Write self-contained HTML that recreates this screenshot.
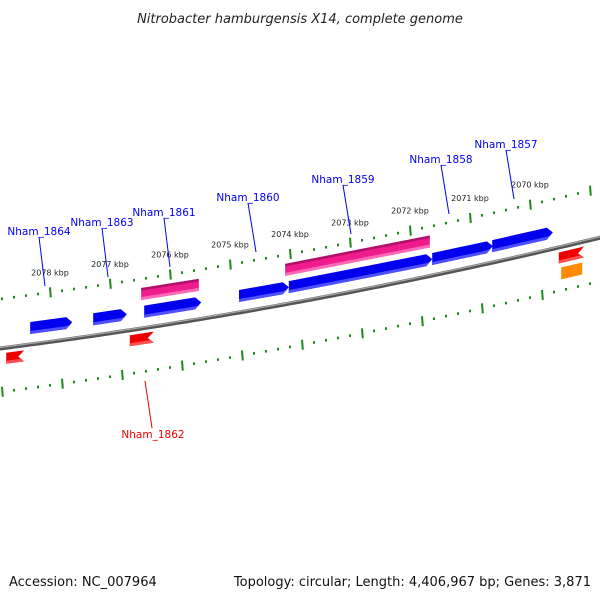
<!DOCTYPE html>
<html><head><meta charset="utf-8"><style>
body{margin:0;background:#fff}
svg{display:block}
text{font-family:"DejaVu Sans","Liberation Sans",sans-serif}
</style></head><body>
<svg id="c" width="600" height="600" viewBox="0 0 600 600">
<text x="300" y="23" text-anchor="middle" font-size="13" font-style="italic" fill="#222">Nitrobacter hamburgensis X14, complete genome</text>
<text x="9" y="586" font-size="13" fill="#111">Accession: NC_007964</text>
<text x="591" y="586" font-size="13" fill="#111" text-anchor="end">Topology: circular; Length: 4,406,967 bp; Genes: 3,871</text>
<g id="layer"></g>
</svg>
<script>
const tickKbp=[2078,2077,2076,2075,2074,2073,2072,2071,2070];
const geneNames=["Nham_1864","Nham_1863","Nham_1861","Nham_1860","Nham_1859","Nham_1858","Nham_1857"];
const fwdStart=[2078.33,2077.28,2076.43,2074.85,2074.02,2071.63,2070.63];
const fwdEnd=[2077.63,2076.72,2075.48,2074.02,2071.63,2070.62,2069.62];
const pinkStart=[2076.48,2074.08];
const pinkEnd=[2075.52,2071.67];
const revStart=[2078.73,2076.67,2069.52];
const revEnd=[2078.53,2076.37,2069.2];
const revNames=["","Nham_1862",""];
const orangeStart=[2069.48];
const orangeEnd=[2069.13];
const labelPos=[[39,231],[102,222],[164,212],[248,197],[343,179],[441,159],[506,144]];

const NS="http://www.w3.org/2000/svg";
const L=document.getElementById('layer');
function X(k){return 50+(2078-k)*60;}
function B(x){return 347-0.128*x-9.44e-5*x*x;}
function el(t,a){const e=document.createElementNS(NS,t);for(const k in a)e.setAttribute(k,a[k]);L.appendChild(e);return e;}

// backbone
let d="";for(let x=-5;x<=605;x+=5){d+=(x==-5?"M":"L")+x+","+(B(x)+1.5);}
let bb=el('path',{d:d,stroke:'#555',"stroke-width":4,fill:'none'});

d="";for(let x=-5;x<=605;x+=5){d+=(x==-5?"M":"L")+x+","+(B(x)+0.5);}
el('path',{d:d,stroke:'#aaa',"stroke-width":1.2,fill:'none'});

// tick tracks
function track(off,shift,name){
  for(let i=-40;i<=60;i++){
    const k=2078.8-i*0.2;
    const x=X(k)+shift; if(x<-2||x>602)continue;
    const major=Math.abs(Math.round(k)-k)<0.01;
    const y=B(x)+off;
    const t=el('line',{x1:x,y1:y-(major?5:1.3),x2:x+(major?0.8:0),y2:y+(major?5:1.3),stroke:'#1a8a1a',"stroke-width":2});
    
  }
}
track(-48,0,'upper-tick');
track(45,12,'lower-tick');
tickKbp.forEach(k=>{
  const x=X(k);const t=el('text',{x:x,y:B(x)-65,"font-size":8,"text-anchor":"middle",fill:'#222'});
  t.textContent=k+" kbp";
  
});

function gene(ks,ke,off,h,color,light,dir,name){
  const x1=X(ks),x2=X(ke);const a=dir>0?6:-6;
  const xs=dir>0?x1:x2, xe=dir>0?x2:x1;
  const tip=xe, base=xe-a;
  const p=[[xs,B(xs)+off-h/2],[base,B(base)+off-h/2],[tip,B(tip)+off],[base,B(base)+off+h/2],[xs,B(xs)+off+h/2]];
  const g=el('polygon',{points:p.map(q=>q.join(',')).join(' '),fill:color});
  
  const q=[[xs,B(xs)+off+h/2-3],[base,B(base)+off+h/2-3],[tip-a*0.3,B(tip)+off+h/2-3.5],[base,B(base)+off+h/2],[xs,B(xs)+off+h/2]];
  el('polygon',{points:q.map(r=>r.join(',')).join(' '),fill:light});
}
for(let i=0;i<fwdStart.length;i++)gene(fwdStart[i],fwdEnd[i],-15,12,'#0000ee','#4f4fff',1,'gene-'+geneNames[i].toLowerCase().replace('_','-'));
for(let i=0;i<pinkStart.length;i++){
  const x1=X(pinkStart[i]),x2=X(pinkEnd[i]);const off=-33,h=12;
  const p=[[x1,B(x1)+off-h/2],[x2,B(x2)+off-h/2],[x2,B(x2)+off+h/2],[x1,B(x1)+off+h/2]];
  const g=el('polygon',{points:p.map(q=>q.join(',')).join(' '),fill:'#ee1c8c'});
  
  const q=[[x1,B(x1)+off-h/2],[x2,B(x2)+off-h/2],[x2,B(x2)+off-h/2+2.5],[x1,B(x1)+off-h/2+2.5]];
  el('polygon',{points:q.map(r=>r.join(',')).join(' '),fill:'#b0106a'});
  const r=[[x1,B(x1)+off+h/2-3],[x2,B(x2)+off+h/2-3],[x2,B(x2)+off+h/2],[x1,B(x1)+off+h/2]];
  el('polygon',{points:r.map(s=>s.join(',')).join(' '),fill:'#ff6ab8'});
}
for(let i=0;i<revStart.length;i++)gene(revEnd[i],revStart[i],12,11,'#ee0000','#ff5050',-1,'reverse-gene');
for(let i=0;i<orangeStart.length;i++){
  const x1=X(orangeStart[i]),x2=X(orangeEnd[i]);const off=28,h=12;
  const p=[[x1,B(x1)+off-h/2],[x2,B(x2)+off-h/2],[x2,B(x2)+off+h/2],[x1,B(x1)+off+h/2]];
  const g=el('polygon',{points:p.map(q=>q.join(',')).join(' '),fill:'#ff8c00'});
  
}
// gene labels
for(let i=0;i<geneNames.length;i++){
  const cx=X((fwdStart[i]+fwdEnd[i])/2);
  const [lx,ly]=labelPos[i];
  const ln=el('line',{x1:lx,y1:ly+6,x2:lx+(i>=3?8:6),y2:ly+55,stroke:'#0000ee',"stroke-width":1});
  
  const t=el('text',{x:lx,y:ly+4,"font-size":10.5,"text-anchor":"middle",fill:'#0000ee'});
  t.textContent=geneNames[i];
  
}
const rl=el('line',{x1:145,y1:381,x2:152,y2:428,stroke:'#ee0000',"stroke-width":1});

const rt=el('text',{x:153,y:438,"font-size":10.5,"text-anchor":"middle",fill:'#ee0000'});
rt.textContent=revNames[1];

</script>
</body></html>
